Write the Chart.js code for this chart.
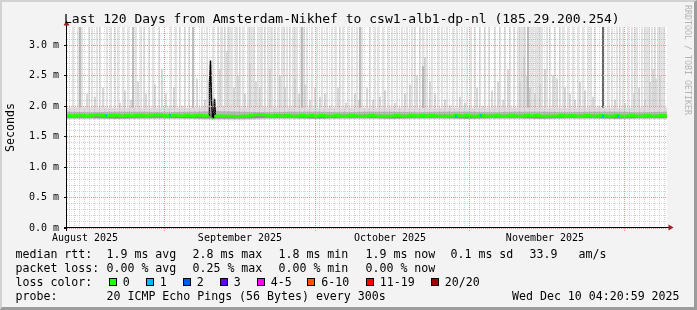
<!DOCTYPE html>
<html>
<head>
<meta charset="utf-8">
<script src="https://cdn.jsdelivr.net/npm/chart.js@4.4.1/dist/chart.umd.min.js"></script>
<style>
  html, body { margin: 0; padding: 0; }
  body { width: 697px; height: 310px; position: relative; overflow: hidden; background: #f3f3f3;
         font-family: 'DejaVu Sans Mono', monospace; color: #000; }
  #frame { position: absolute; left: 0; top: 0; width: 697px; height: 310px; box-sizing: border-box;
           border-style: solid; border-width: 2px 3px 3px 2px; border-color: #d2d2d2 #9c9c9c #9c9c9c #d2d2d2; }
  #chart { position: absolute; left: 0; top: 0; }
  #title { position: absolute; left: 64px; top: 12px; font-size: 13px; line-height: 13px; white-space: pre; }
  #mark { position: absolute; left: 683px; top: 5px; writing-mode: vertical-rl; font-size: 8.3px; line-height: 9px;
          color: #b4b4b4; white-space: pre; }
  .t { position: absolute; white-space: pre; font-size: 11.6px; line-height: 14px; }
  .box { position: absolute; top: 278px; width: 8px; height: 8px; box-sizing: border-box; border: 1px solid #000; }
</style>
</head>
<body>
<div id="frame"></div>
<canvas id="chart" width="697" height="310"></canvas>
<div id="title">Last 120 Days from Amsterdam-Nikhef to csw1-alb1-dp-nl (185.29.200.254)</div>
<div id="mark">RRDTOOL / TOBI OETIKER</div>

<div class="t" style="top:247px;left:15.5px">median rtt:</div>
<div class="t" style="top:247px;left:106.5px">1.9 ms avg</div>
<div class="t" style="top:247px;left:192.5px">2.8 ms max</div>
<div class="t" style="top:247px;left:278.5px">1.8 ms min</div>
<div class="t" style="top:247px;left:365.5px">1.9 ms now</div>
<div class="t" style="top:247px;left:450.5px">0.1 ms sd</div>
<div class="t" style="top:247px;left:529.5px">33.9</div>
<div class="t" style="top:247px;left:578.5px">am/s</div>

<div class="t" style="top:261px;left:15.5px">packet loss:</div>
<div class="t" style="top:261px;left:106.5px">0.00 % avg</div>
<div class="t" style="top:261px;left:192.5px">0.25 % max</div>
<div class="t" style="top:261px;left:278.5px">0.00 % min</div>
<div class="t" style="top:261px;left:365.5px">0.00 % now</div>

<div class="t" style="top:275px;left:15.5px">loss color:</div>
<div id="losskey"></div>

<div class="t" style="top:288.5px;left:15.5px">probe:</div>
<div class="t" style="top:288.5px;left:106.5px">20 ICMP Echo Pings (56 Bytes) every 300s</div>
<div class="t" style="top:288.5px;left:512px">Wed Dec 10 04:20:59 2025</div>

<script>
// x axis is in days since the left edge of the graph (Aug 12 04:20)
const MONTH_LINE_DAY = [19.4, 49.6, 80.4, 111.4];
const MONTH_LABEL_DAY = [3.6, 34.6, 64.6, 95.6];
const MONTH_LABELS = ['August 2025', 'September 2025', 'October 2025', 'November 2025'];
const Y_LABEL_VALUES = [0, 0.5, 1, 1.5, 2, 2.5, 3];

const LOSS_LABELS = ['0', '1', '2', '3', '4-5', '6-10', '11-19', '20/20'];
const LOSS_COLORS = ['#26ff00', '#00b8ff', '#0059ff', '#5e00ff', '#ff00ff', '#ff5500', '#ff0000', '#a10000'];

// median rtt (ms)
const MEDIAN_DAY = [
  0, 1, 2, 3, 4, 5, 6, 7, 8, 9, 10, 11, 12, 13, 14, 15, 16, 17, 18, 19,
  20, 21, 22, 23, 24, 25, 26, 27, 28, 28.4, 28.5, 28.7, 28.9, 29.1, 29.3, 29.5, 29.7, 29.8, 30,
  31, 32, 33, 34, 35, 36, 37, 38, 39, 40, 41, 42, 43, 44, 45, 46, 47, 48, 49,
  50, 51, 52, 53, 54, 55, 56, 57, 58, 59, 60, 61, 62, 63, 64, 65, 66, 67, 68, 69,
  70, 71, 72, 73, 74, 75, 76, 77, 78, 79, 80, 81, 82, 83, 84, 85, 86, 87, 88, 89,
  90, 91, 92, 93, 94, 95, 96, 97, 98, 99, 100, 101, 102, 103, 104, 105, 106, 107, 108, 109,
  110, 111, 112, 113, 114, 115, 116, 117, 118, 119, 120,
];
const MEDIAN_MS = [
  1.85, 1.84, 1.85, 1.85, 1.84, 1.85, 1.86, 1.85, 1.84, 1.85, 1.85, 1.84, 1.85, 1.84, 1.85, 1.85, 1.84, 1.85, 1.86, 1.85,
  1.84, 1.85, 1.85, 1.84, 1.85, 1.84, 1.85, 1.85, 1.84, 1.85, 2.38, 2.75, 2.09, 1.81, 1.80, 2.12, 1.81, 1.84, 1.84,
  1.84, 1.84, 1.84, 1.83, 1.84, 1.84, 1.85, 1.86, 1.86, 1.85, 1.84, 1.85, 1.84, 1.85, 1.84, 1.84, 1.85, 1.84, 1.85,
  1.84, 1.85, 1.84, 1.84, 1.85, 1.84, 1.84, 1.85, 1.84, 1.84, 1.84, 1.85, 1.84, 1.84, 1.84, 1.84, 1.85, 1.84, 1.84, 1.85,
  1.84, 1.85, 1.84, 1.85, 1.84, 1.84, 1.84, 1.84, 1.85, 1.84, 1.85, 1.84, 1.84, 1.85, 1.84, 1.84, 1.85, 1.84, 1.84, 1.85,
  1.84, 1.84, 1.85, 1.84, 1.85, 1.84, 1.84, 1.84, 1.84, 1.85, 1.84, 1.85, 1.84, 1.84, 1.85, 1.84, 1.84, 1.85, 1.84, 1.84,
  1.85, 1.84, 1.84, 1.85, 1.84, 1.84, 1.85, 1.84, 1.84, 1.85, 1.84,
];
const LOSS1_DAY = [7.8, 20.6, 77.8, 82.8, 107.2, 110.2];
const LOSS1_MS = [1.85, 1.85, 1.84, 1.85, 1.84, 1.84];

// smoke band around the median (ms)
const BAND_DAY = [0, 5, 10, 15, 20, 25, 30, 35, 40, 45, 50, 55, 60, 65, 70, 75, 80, 85, 90, 95, 100, 105, 110, 115, 120];
const HAZE_HI = [1.98, 1.98, 1.97, 1.97, 1.98, 1.97, 1.99, 1.98, 1.98, 1.98, 1.97, 1.97, 1.97, 1.98, 1.97, 1.97, 1.97, 1.98, 1.98, 1.97, 1.97, 1.98, 1.97, 1.98, 1.98];
const HAZE_LO = [1.78, 1.78, 1.78, 1.78, 1.78, 1.78, 1.77, 1.77, 1.78, 1.78, 1.78, 1.78, 1.78, 1.78, 1.78, 1.78, 1.78, 1.78, 1.78, 1.78, 1.78, 1.78, 1.78, 1.78, 1.78];
const MID_HI = [1.91, 1.90, 1.91, 1.91, 1.90, 1.91, 1.92, 1.91, 1.90, 1.91, 1.91, 1.90, 1.91, 1.91, 1.90, 1.91, 1.91, 1.90, 1.91, 1.91, 1.90, 1.91, 1.91, 1.90, 1.91];
const MID_LO = [1.80, 1.80, 1.79, 1.80, 1.80, 1.80, 1.79, 1.79, 1.80, 1.80, 1.79, 1.80, 1.80, 1.79, 1.80, 1.80, 1.79, 1.80, 1.80, 1.79, 1.80, 1.80, 1.79, 1.80, 1.80];
const CORE_HI = [1.86, 1.86, 1.85, 1.86, 1.86, 1.85, 1.86, 1.85, 1.86, 1.86, 1.85, 1.86, 1.86, 1.85, 1.86, 1.86, 1.85, 1.86, 1.86, 1.85, 1.86, 1.86, 1.85, 1.86, 1.86];
const CORE_LO = [1.81, 1.81, 1.80, 1.81, 1.81, 1.80, 1.80, 1.80, 1.81, 1.81, 1.80, 1.81, 1.81, 1.80, 1.81, 1.81, 1.80, 1.81, 1.81, 1.80, 1.81, 1.81, 1.80, 1.81, 1.81];

// single slow pings (smoke spikes)
const SPIKE_BASE = 1.9;
const TALL_SPIKE_TOP = 3.5; // off the top of the scale
const TALL_SPIKE_DAY = [
  1.2, 2.2, 3.0, 4.4, 5.0, 6.0, 6.6, 8.0, 8.8, 9.6, 10.2, 11.2, 12.2, 13.8, 14.8, 15.4, 16.4, 17.2, 18.4,
  20.8, 21.8, 22.6, 23.6, 24.4, 27.0, 28.0, 29.2,
  30.2, 30.8, 31.0, 31.6, 32.2, 32.6, 33.0, 33.8, 34.0, 34.6, 35.2, 36.2, 36.6, 37.0, 37.4, 38.2, 38.8, 39.0, 39.6,
  40.2, 40.8, 41.0, 41.6, 42.2, 43.0, 43.4, 44.0, 44.6, 45.2, 45.6, 46.0, 46.8, 47.4, 48.0, 49.0, 50.0, 51.0, 52.0,
  53.0, 53.8, 54.6, 55.2, 56.2, 57.0, 58.0, 59.0,
  60.6, 61.6, 62.2, 63.2, 64.2, 65.0, 66.0, 67.0, 68.0, 69.0, 69.6, 70.6, 71.2, 72.0, 73.0, 74.2, 75.0, 76.0, 77.2,
  78.0, 79.0, 80.0, 80.8, 81.6, 82.6, 83.6, 84.4, 85.6, 86.6, 87.6, 88.6, 89.4,
  90.2, 90.6, 91.0, 91.4, 91.6, 92.2, 92.8, 93.2, 93.8, 94.2, 94.6, 95.0, 96.0, 96.6, 97.6, 98.6, 99.2, 100.2,
  101.2, 102.2, 103.2, 104.2, 104.8, 105.6, 108.2, 109.0, 110.0, 110.6, 111.2, 112.2, 113.0, 113.6, 114.0, 115.0,
  115.6, 116.0, 116.4, 117.0, 117.6, 118.2, 118.6, 119.0, 119.4,
];
const PART_SPIKE_DAY = [
  4.0, 5.6, 7.2, 10.6, 11.6, 12.8, 14.2, 15.8, 17.6, 19.0, 19.8, 21.4, 23.0, 26.0, 27.6,
  30.6, 32.0, 33.4, 34.2, 35.6, 36.6, 37.8, 38.6, 40.6, 42.6, 43.6, 45.6, 46.4, 47.6, 48.6, 49.6, 50.6, 51.6, 52.6,
  54.2, 55.8, 57.6, 58.4,
  60.0, 61.2, 62.6, 63.6, 65.6, 67.6, 68.6, 70.0, 71.6, 72.6, 73.6, 75.6, 76.6, 78.6, 79.6, 82.0, 83.2, 85.0, 86.2,
  87.2, 88.2,
  90.6, 91.4, 92.0, 92.6, 93.6, 94.6, 95.6, 97.2, 98.0, 99.6, 100.6, 101.6, 102.6, 103.6, 105.2, 106.2, 109.6,
  111.6, 113.4, 114.4, 115.6, 116.6, 117.2, 117.8, 118.6,
];
const PART_SPIKE_TOP = [
  2.2, 2.15, 2.3, 2.05, 2.25, 2.1, 2.4, 2.2, 2.35, 2.6, 2.2, 2.3, 2.0, 2.45, 2.1,
  2.6, 2.9, 2.3, 2.5, 2.2, 2.7, 2.4, 2.3, 2.6, 2.5, 2.3, 2.45, 2.2, 2.35, 2.1, 2.3, 2.15, 2.2, 2.0,
  2.3, 2.05, 2.2, 2.1,
  2.3, 2.1, 2.15, 2.25, 2.05, 2.2, 2.35, 2.5, 2.8, 2.4, 2.2, 2.1, 2.0, 2.15, 2.05, 2.3, 2.0, 2.25, 2.4,
  2.1, 2.6,
  2.4, 2.8, 2.5, 2.3, 2.2, 2.35, 2.6, 2.5, 2.45, 2.3, 2.2, 2.1, 2.4, 2.25, 2.15, 2.0, 2.1,
  2.05, 2.2, 2.3, 2.1, 2.4, 2.6, 2.45, 2.5,
];
const DARK_SPIKE_DAY = [2.6, 13.2, 25.2, 47.0, 58.6, 71.2, 92.2];
const DARK_SPIKE_TOP = [3.5, 3.5, 3.5, 3.5, 3.5, 2.65, 3.5];
const BLACK_SPIKE_DAY = [107.2];
const BLACK_SPIKE_LO = [1.86];
const BLACK_SPIKE_TOP = [3.5];

const MINOR_GRID = 'rgba(150,150,150,0.42)';
const MAJOR_GRID = '#f39090';
const CLEAR = 'rgba(0,0,0,0)';

// loss colour key
const key = document.getElementById('losskey');
const BOX_X = [108.5, 145.5, 182.5, 219.5, 256.5, 307, 365.5, 430.5];
LOSS_LABELS.forEach((label, i) => {
  const box = document.createElement('div');
  box.className = 'box';
  box.style.left = BOX_X[i] + 'px';
  box.style.background = LOSS_COLORS[i];
  key.appendChild(box);
  const text = document.createElement('div');
  text.className = 't';
  text.style.top = '275px';
  text.style.left = (BOX_X[i] + 14.3) + 'px';
  text.textContent = label;
  key.appendChild(text);
});

const xy = (xs, ys) => xs.map((x, i) => ({ x, y: ys[i] }));

const spikes = [];
const spikeColors = [];
TALL_SPIKE_DAY.forEach(d => { spikes.push({ x: d, y: [SPIKE_BASE, TALL_SPIKE_TOP] }); spikeColors.push('#dddddd'); });
PART_SPIKE_DAY.forEach((d, i) => { spikes.push({ x: d, y: [SPIKE_BASE, PART_SPIKE_TOP[i]] }); spikeColors.push('#d2d2d2'); });
DARK_SPIKE_DAY.forEach((d, i) => { spikes.push({ x: d, y: [SPIKE_BASE, DARK_SPIKE_TOP[i]] }); spikeColors.push('#b0b0b0'); });
BLACK_SPIKE_DAY.forEach((d, i) => { spikes.push({ x: d, y: [BLACK_SPIKE_LO[i], BLACK_SPIKE_TOP[i]] }); spikeColors.push('#4a4a4a'); });

const band = (hi, lo, color, order) => [
  { type: 'line', data: xy(BAND_DAY, hi), fill: '+1', backgroundColor: color, borderWidth: 0, pointRadius: 0, order },
  { type: 'line', data: xy(BAND_DAY, lo), fill: false, borderWidth: 0, pointRadius: 0, order },
];

const jump = c => Math.abs(c.p1.parsed.y - c.p0.parsed.y) > 0.12;

// grid styling per tick
const xGridColor = c => {
  const kind = c.tick ? c.tick.kind : '';
  if (kind === 'month') return MAJOR_GRID;
  if (kind === 'day') return MINOR_GRID;
  return CLEAR;
};
const yGridColor = c => {
  if (!c.tick) return CLEAR;
  if (c.tick.major) return MAJOR_GRID;
  return c.tick.value > 3.25 ? CLEAR : MINOR_GRID;
};

const rrdFrame = {
  id: 'rrdFrame',
  beforeDraw(chart) {
    const { ctx, chartArea: a } = chart;
    ctx.save();
    ctx.fillStyle = '#ffffff';
    ctx.fillRect(a.left, a.top, a.right - a.left, a.bottom - a.top);
    ctx.restore();
  },
  afterDraw(chart) {
    const { ctx, chartArea: a } = chart;
    ctx.save();
    ctx.strokeStyle = '#000';
    ctx.lineWidth = 1;
    ctx.beginPath();
    ctx.moveTo(a.left - 0.5, a.bottom + 3);
    ctx.lineTo(a.left - 0.5, a.top - 5);
    ctx.moveTo(a.left - 3, a.bottom - 0.5);
    ctx.lineTo(a.right + 2, a.bottom - 0.5);
    ctx.stroke();
    ctx.fillStyle = '#9a1f1f';
    ctx.beginPath();
    ctx.moveTo(a.left - 0.5, a.top - 6.5);
    ctx.lineTo(a.left - 3.5, a.top - 1.5);
    ctx.lineTo(a.left + 2.5, a.top - 1.5);
    ctx.closePath();
    ctx.fill();
    ctx.beginPath();
    ctx.moveTo(a.right + 6.5, a.bottom - 0.5);
    ctx.lineTo(a.right + 1.5, a.bottom - 3.5);
    ctx.lineTo(a.right + 1.5, a.bottom + 2.5);
    ctx.closePath();
    ctx.fill();
    ctx.restore();
  },
};

Chart.defaults.font.family = "'DejaVu Sans Mono', monospace";
Chart.defaults.font.size = 10;
Chart.defaults.color = '#000';

new Chart(document.getElementById('chart'), {
  type: 'bar',
  data: {
    datasets: [
      {
        type: 'line', data: xy(MEDIAN_DAY, MEDIAN_MS), borderColor: LOSS_COLORS[0], borderWidth: 3,
        pointRadius: 0, fill: false, order: 2,
        segment: {
          borderColor: c => (jump(c) ? '#000000' : undefined),
          borderWidth: c => (jump(c) ? 1.5 : undefined),
        },
      },
      {
        type: 'line', data: xy(LOSS1_DAY, LOSS1_MS), showLine: false, pointStyle: 'rect',
        pointRadius: 1.5, pointBackgroundColor: LOSS_COLORS[1], pointBorderWidth: 0, order: 1,
      },
      ...band(CORE_HI, CORE_LO, '#8c8c8c', 4),
      ...band(MID_HI, MID_LO, '#b9b9b9', 6),
      ...band(HAZE_HI, HAZE_LO, '#dcdcdc', 8),
      {
        type: 'bar', data: spikes, backgroundColor: spikeColors, borderWidth: 0,
        barThickness: 1, clip: 0, order: 10,
      },
    ],
  },
  options: {
    responsive: false,
    animation: false,
    devicePixelRatio: 1,
    layout: { padding: { top: 27, right: 30, bottom: 62, left: 0 } },
    plugins: { legend: { display: false }, tooltip: { enabled: false } },
    scales: {
      x: {
        type: 'linear', min: 0, max: 120, offset: false,
        afterBuildTicks: scale => {
          const ticks = [];
          for (let k = 0; k < 120; k++) {
            const v = 0.4 + k;
            if (MONTH_LINE_DAY.every(m => Math.abs(m - v) > 0.35)) ticks.push({ value: v, kind: 'day' });
          }
          MONTH_LINE_DAY.forEach(v => ticks.push({ value: v, kind: 'month' }));
          MONTH_LABEL_DAY.forEach((v, i) => ticks.push({ value: v, kind: 'label', text: MONTH_LABELS[i] }));
          ticks.sort((a, b) => a.value - b.value);
          scale.ticks = ticks;
        },
        afterFit: scale => { scale.height = 20; },
        ticks: {
          autoSkip: false, maxRotation: 0, padding: 1,
          callback: (v, i, ticks) => (ticks[i].kind === 'label' ? ticks[i].text : ''),
        },
        grid: {
          z: 1, offset: false, lineWidth: 1, tickLength: 3,
          color: xGridColor,
          tickColor: c => (c.tick && c.tick.kind === 'month' ? MAJOR_GRID : CLEAR),
          tickBorderDash: [1, 1],
        },
        border: { display: false, dash: [1, 1] },
      },
      y: {
        type: 'linear', min: 0, max: 3.3, stacked: false,
        afterBuildTicks: scale => {
          const ticks = [];
          for (let k = 0; k <= 33; k++) {
            const v = k / 10;
            ticks.push({ value: v, major: Y_LABEL_VALUES.some(m => Math.abs(m - v) < 1e-6) });
          }
          scale.ticks = ticks;
        },
        afterFit: scale => { scale.width = 67; },
        ticks: {
          autoSkip: false, padding: 5,
          callback: (v, i, ticks) => (ticks[i].major ? v.toFixed(1) + ' m' : ''),
        },
        title: { display: true, text: 'Seconds', font: { size: 11.6 }, padding: { top: 4, bottom: 0 } },
        grid: {
          z: 1, lineWidth: 1, tickLength: 3,
          color: yGridColor,
          tickColor: c => (c.tick && c.tick.major ? '#000' : CLEAR),
        },
        border: { display: false, dash: [1, 1] },
      },
    },
  },
  plugins: [rrdFrame],
});
</script>
</body>
</html>
